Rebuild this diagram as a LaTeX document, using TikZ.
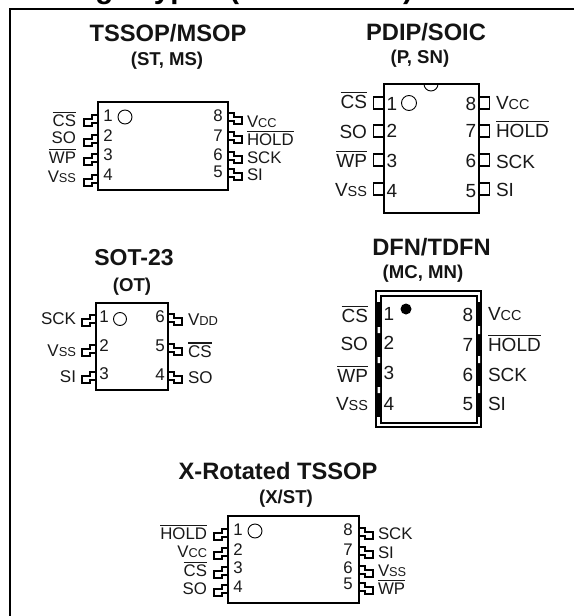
\documentclass[tikz,border=0pt]{standalone}
\usepackage{fontspec}
\usepackage{graphicx}
\setmainfont{Liberation Sans}
\newcommand{\ovl}[1]{\vbox{\hrule height 1.1pt \kern 1.6pt\hbox{#1}}}
\newcommand{\sml}[1]{\scalebox{.76}{#1}}
\newcommand{\fs}[1]{\fontsize{#1}{#1}\selectfont}
\newcommand{\pinL}[2]{\draw[pinline] (#1,#2) -- ++(-6,0) -- ++(0,4) -- ++(-8,0) -- ++(0,7) -- ++(8,0) -- ++(0,-3) -- ++(6,0);}
\newcommand{\pinR}[2]{\draw[pinline] (#1,#2) -- ++(6,0) -- ++(0,4) -- ++(8,0) -- ++(0,7) -- ++(-8,0) -- ++(0,-3) -- ++(-6,0);}
\newcommand{\lL}[4]{\node[lbl,anchor=base east] (#1) at (#2,#3) {#4};}
\newcommand{\lR}[4]{\node[lbl,anchor=base west] (#1) at (#2,#3) {#4};}
\newcommand{\num}[4]{\node[lbl,anchor=base] (#1) at (#2,#3) {#4};}
\tikzset{
  pinline/.style={draw=black,line width=1.1pt,line join=miter},
  body/.style={draw=black,line width=1.6pt,fill=white},
  frameline/.style={draw=black,line width=1.8pt},
  lbl/.style={inner sep=0pt,outer sep=0pt,text=black!90},
  ttl/.style={inner sep=0pt,outer sep=0pt,anchor=base,font=\bfseries\fs{23.7},text=black!92},
  subttl/.style={inner sep=0pt,outer sep=0pt,anchor=base,font=\bfseries\fs{18.6},text=black!92},
  ringmark/.style={draw=black,line width=.9pt,fill=none}
}
\begin{document}
\begin{tikzpicture}[x=1pt,y=-1pt]
\useasboundingbox (0,0) rectangle (574,616);
\clip (0,0) rectangle (574,616);
\node[inner sep=0pt,anchor=base west,font=\bfseries\fs{29.5}] (head) at (10,-2) {Package Types (not to scale)};
\draw[frameline] (574,9) -- (10,9) -- (10,616);

% TSSOP/MSOP
\node[ttl] (t1) at (168,41.7) {TSSOP/MSOP};
\node[subttl] (s1) at (167,65) {(ST, MS)};
\draw[body] (98,102) rectangle (228,190);
\draw[ringmark] (125,117) circle (7);
\pinL{98}{115}\pinL{98}{135}\pinL{98}{154}\pinL{98}{175}
\pinR{228}{113}\pinR{228}{132}\pinR{228}{152}\pinR{228}{169}
\begin{scope}[lbl/.append style={font=\fs{16.8}}]
\num{a1}{108}{121}{1}\num{a2}{108}{141}{2}\num{a3}{108}{160}{3}\num{a4}{108}{180}{4}
\num{a8}{218}{121}{8}\num{a7}{218}{141}{7}\num{a6}{218}{160}{6}\num{a5}{218}{177}{5}
\lL{al1}{76}{126}{\ovl{CS}}\lL{al2}{76}{143}{SO}\lL{al3}{76}{163}{\ovl{WP}}\lL{al4}{76}{182}{V\sml{SS}}
\lR{ar1}{247}{127}{V\sml{CC}}\lR{ar2}{247}{145}{\ovl{HOLD}}\lR{ar3}{247}{163}{SCK}\lR{ar4}{247}{180}{SI}
\end{scope}

% PDIP/SOIC
\node[ttl] (t2) at (426,40.7) {PDIP/SOIC};
\node[subttl] (s2) at (420,63) {(P, SN)};
\draw[body] (384,84) rectangle (479,213);
\draw[ringmark] (424,84) arc[start angle=180,end angle=0,radius=7];
\draw[ringmark] (409,103) circle (7.5);
\foreach \t in {97,125,154,183}{
  \draw[pinline] (384,\t) -- ++(-10.5,0) -- ++(0,12) -- ++(10.5,0);
  \draw[pinline] (479,\t) -- ++(10.5,0) -- ++(0,12) -- ++(-10.5,0);
}
\begin{scope}[lbl/.append style={font=\fs{19}}]
\num{b1}{392}{110}{1}\num{b2}{392}{137}{2}\num{b3}{392}{167}{3}\num{b4}{392}{197}{4}
\num{b8}{471}{110}{8}\num{b7}{471}{137}{7}\num{b6}{471}{167}{6}\num{b5}{471}{197}{5}
\lL{bl1}{367}{108}{\ovl{CS}}\lL{bl2}{367}{138}{SO}\lL{bl3}{367}{167}{\ovl{WP}}\lL{bl4}{367}{196}{V\sml{SS}}
\lR{br1}{496}{109}{V\sml{CC}}\lR{br2}{496}{137}{\ovl{HOLD}}\lR{br3}{496}{168}{SCK}\lR{br4}{496}{196}{SI}
\end{scope}

% SOT-23
\node[ttl,font=\bfseries\fs{23}] (t3) at (134,265) {SOT-23};
\node[subttl] (s3) at (132,291) {(OT)};
\draw[body] (96,303) rectangle (168,390);
\draw[ringmark] (120,319) circle (6.5);
\pinL{96}{315}\pinL{96}{345}\pinL{96}{372}
\pinR{168}{314}\pinR{168}{344}\pinR{168}{372}
\begin{scope}[lbl/.append style={font=\fs{17}}]
\num{c1}{104}{322}{1}\num{c2}{104}{351}{2}\num{c3}{104}{379}{3}
\num{c6}{160}{322}{6}\num{c5}{160}{351}{5}\num{c4}{160}{380}{4}
\lL{cl1}{76}{324}{SCK}\lL{cl2}{76}{356}{V\sml{SS}}\lL{cl3}{76}{382}{SI}
\lR{cr1}{188}{325}{V\sml{DD}}\lR{cr2}{188}{357}{\ovl{CS}}\lR{cr3}{188}{383}{SO}
\end{scope}

% DFN/TDFN
\node[ttl] (t4) at (431.5,255) {DFN/TDFN};
\node[subttl] (s4) at (423,278) {(MC, MN)};
\draw[body] (376,291) rectangle (481,427);
\draw[draw=black,line width=1.6pt] (381,296) rectangle (477,423);
\fill[black] (376,302) rectangle (381,417);
\fill[black] (477,302) rectangle (481,417);
\fill[white] (377.5,327) rectangle (380,333) (377.5,357) rectangle (380,363) (377.5,387) rectangle (380,393);
\fill[white] (478,326) rectangle (480,334) (478,356) rectangle (480,363) (478,386) rectangle (480,393);
\fill[black] (406,309) circle (5.5);
\begin{scope}[lbl/.append style={font=\fs{19}}]
\num{d1}{389}{320}{1}\num{d2}{389}{349}{2}\num{d3}{389}{379}{3}\num{d4}{389}{410}{4}
\num{d8}{468}{321}{8}\num{d7}{468}{351}{7}\num{d6}{468}{381}{6}\num{d5}{468}{410}{5}
\lL{dl1}{368}{322}{\ovl{CS}}\lL{dl2}{368}{350}{SO}\lL{dl3}{368}{382}{\ovl{WP}}\lL{dl4}{368}{410}{V\sml{SS}}
\lR{dr1}{488}{320}{V\sml{CC}}\lR{dr2}{488}{351}{\ovl{HOLD}}\lR{dr3}{488}{381}{SCK}\lR{dr4}{488}{410}{SI}
\end{scope}

% X-Rotated TSSOP
\node[ttl] (t5) at (278,479) {X-Rotated TSSOP};
\node[subttl] (s5) at (286,503) {(X/ST)};
\draw[body] (228,516) rectangle (359,603);
\draw[ringmark] (255,531) circle (7);
\pinL{228}{529}\pinL{228}{548}\pinL{228}{567}\pinL{228}{585}
\pinR{359}{528}\pinR{359}{547}\pinR{359}{566}\pinR{359}{583}
\begin{scope}[lbl/.append style={font=\fs{16.8}}]
\num{e1}{238}{535}{1}\num{e2}{238}{555}{2}\num{e3}{238}{573}{3}\num{e4}{238}{592}{4}
\num{e8}{348}{535}{8}\num{e7}{348}{555}{7}\num{e6}{348}{573}{6}\num{e5}{348}{589}{5}
\lL{el1}{207}{539}{\ovl{HOLD}}\lL{el2}{207}{557}{V\sml{CC}}\lL{el3}{207}{576}{\ovl{CS}}\lL{el4}{207}{594}{SO}
\lR{er1}{378}{539}{SCK}\lR{er2}{378}{558}{SI}\lR{er3}{378}{576}{V\sml{SS}}\lR{er4}{378}{594}{\ovl{WP}}
\end{scope}
\end{tikzpicture}
\end{document}
